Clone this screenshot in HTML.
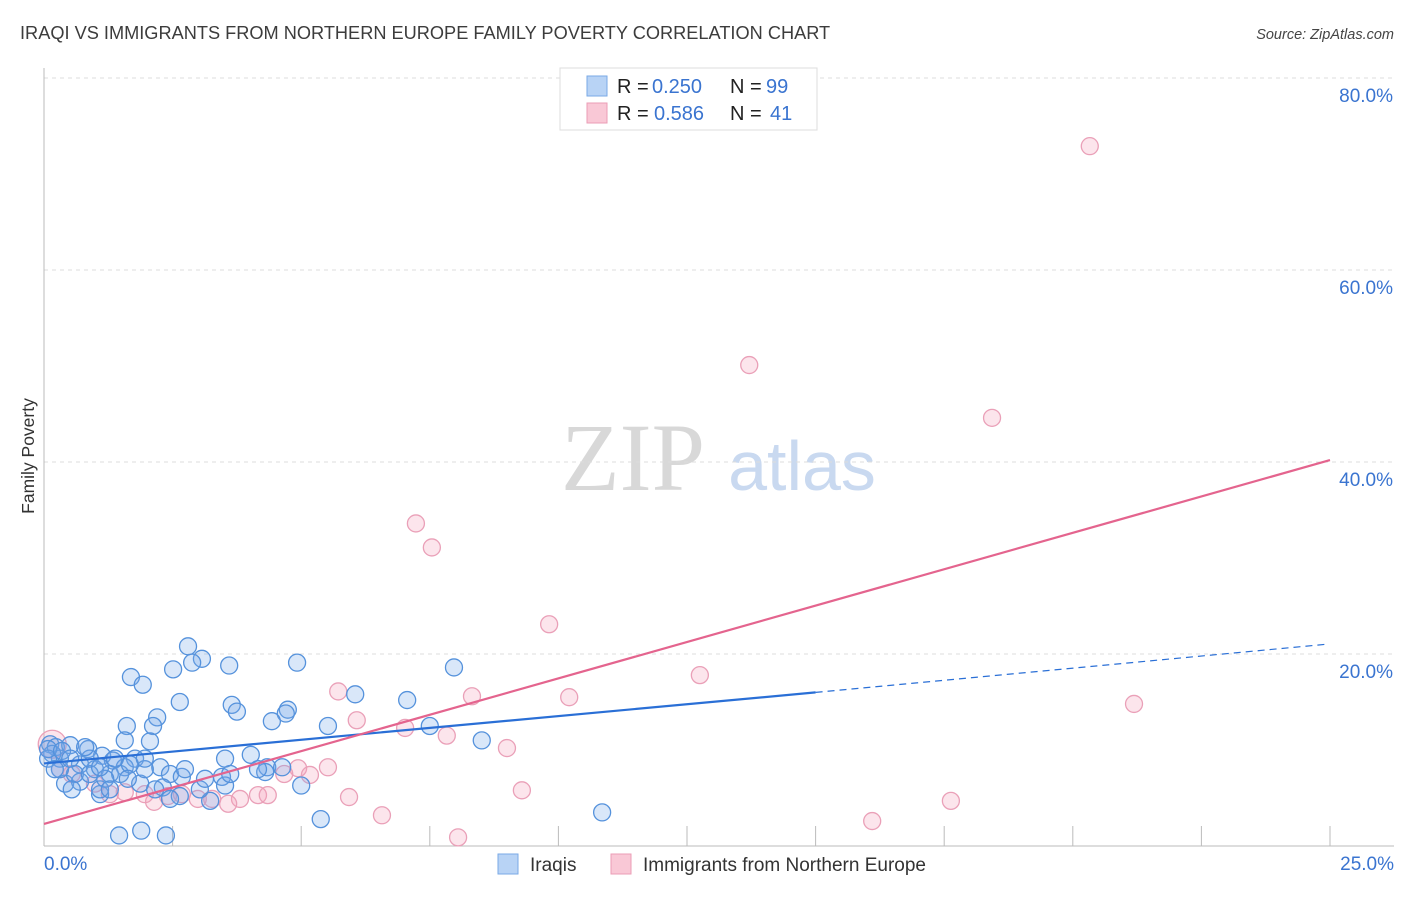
<!DOCTYPE html>
<html><head><meta charset="utf-8"><style>
body{margin:0;background:#fff;font-family:"Liberation Sans",sans-serif;}
svg text{font-family:"Liberation Sans",sans-serif;}
</style></head><body>
<svg id="chart" width="1406" height="892" xmlns="http://www.w3.org/2000/svg">
<text x="20" y="39" font-size="18.2" fill="#3c3c3c">IRAQI VS IMMIGRANTS FROM NORTHERN EUROPE FAMILY POVERTY CORRELATION CHART</text>
<text x="1394" y="39" font-size="14.5" fill="#444" font-style="italic" text-anchor="end">Source: ZipAtlas.com</text>
<text x="34" y="456" font-size="17.5" fill="#333" text-anchor="middle" transform="rotate(-90 34 456)">Family Poverty</text>
<text x="633" y="490" font-size="96" fill="#d8d8d8" text-anchor="middle" style="font-family:'Liberation Serif',serif">ZIP</text>
<text x="802" y="490" font-size="70" fill="#c9d9f0" text-anchor="middle">atlas</text>
<g id="grid"></g><g id="axes"></g><g id="pts"></g><g id="lines"></g>
<g>
<rect x="560" y="68" width="257" height="62" fill="#fff" stroke="#ddd"/>
<rect x="587" y="76" width="20" height="20" fill="#b8d3f5" stroke="#7aaae6"/>
<rect x="587" y="103" width="20" height="20" fill="#f9c8d6" stroke="#eb9db6"/>
<text x="617" y="93" font-size="20" fill="#222">R =</text>
<text x="652" y="93" font-size="20" fill="#3a74d0">0.250</text>
<text x="730" y="93" font-size="20" fill="#222">N =</text>
<text x="766" y="93" font-size="20" fill="#3a74d0">99</text>
<text x="617" y="120" font-size="20" fill="#222">R =</text>
<text x="654" y="120" font-size="20" fill="#3a74d0">0.586</text>
<text x="730" y="120" font-size="20" fill="#222">N =</text>
<text x="770" y="120" font-size="20" fill="#3a74d0">41</text>
</g>
<g>
<rect x="498" y="854" width="20" height="20" fill="#b8d3f5" stroke="#7aaae6"/>
<text x="530" y="871" font-size="19" fill="#333">Iraqis</text>
<rect x="611" y="854" width="20" height="20" fill="#f9c8d6" stroke="#eb9db6"/>
<text x="643" y="871" font-size="19" fill="#333">Immigrants from Northern Europe</text>
</g>
</svg>
<script>
const blueX=[2.80,3.07,2.88,3.60,4.92,7.97,1.69,1.92,2.51,2.64,3.65,3.75,4.74,4.70,6.05,7.06,2.20,1.61,2.12,4.43,5.52,7.50,2.06,1.57,8.51,4.02,3.52,0.12,0.23,0.51,0.86,1.13,1.34,1.77,1.57,0.31,0.70,0.99,1.28,2.26,2.45,2.68,3.46,4.34,4.30,4.63,0.41,0.70,1.09,1.87,2.31,2.64,3.23,3.52,5.00,2.45,1.09,1.46,1.89,2.37,5.38,10.85,0.16,0.08,0.60,0.89,1.48,1.96,2.74,3.62,3.03,0.31,1.38,1.67,0.89,0.54,1.19,1.63,2.16,3.13,4.16,0.08,0.35,0.80,1.96,1.09,0.51,0.21,1.28];
const blueY=[20.8,19.5,19.1,18.8,19.1,18.6,17.6,16.8,18.4,15.0,14.7,14.0,14.2,13.8,15.8,15.2,13.4,12.5,12.5,13.0,12.5,12.5,10.9,11.0,11.0,9.5,9.1,10.6,10.3,10.5,10.1,9.4,8.9,9.1,8.2,9.1,8.5,8.0,7.5,8.2,7.5,7.2,7.2,8.2,7.7,8.2,6.5,6.7,5.4,6.5,6.1,5.2,4.7,6.3,6.3,4.9,5.9,1.1,1.6,1.1,2.8,3.5,9.6,9.1,7.5,7.5,7.5,8.0,8.0,7.5,5.9,8.0,9.1,8.5,9.1,5.9,7.0,7.0,5.9,7.0,8.0,10.1,9.9,10.3,9.1,8.2,9.1,8.0,5.9];
const pinkX=[20.33,13.71,18.43,7.23,7.54,9.82,12.75,21.19,5.72,8.32,10.21,6.08,7.02,7.83,9.00,0.16,4.94,5.52,4.67,5.17,9.29,5.93,6.57,8.05,16.10,17.63,4.16,4.35,3.81,3.58,3.27,2.99,2.68,2.41,2.14,1.96,1.57,1.28,0.54,0.31,0.99];
const pinkY=[72.9,50.1,44.6,33.6,31.1,23.1,17.8,14.8,16.1,15.6,15.5,13.1,12.3,11.5,10.2,10.6,8.1,8.2,7.5,7.4,5.8,5.1,3.2,0.9,2.6,4.7,5.3,5.3,4.9,4.4,4.9,4.9,5.4,5.2,4.6,5.4,5.6,5.4,7.5,8.0,6.5];
const yTicks=[20,40,60,80];
const yTickLabels=["20.0%","40.0%","60.0%","80.0%"];
const xTickVals=[2.5,5,7.5,10,12.5,15,17.5,20,22.5,25];
const blueFit=[8.6,0.0, 15.0,16.0, 24.9,21.0];
const pinkFit=[2.3,25,40.2];
const NS="http://www.w3.org/2000/svg";
const X0=44,X1=1330,Y0=846,PXY=9.6;
const sx=v=>X0+v*(X1-X0)/25, sy=v=>Y0-v*PXY;
function mk(t,a,p){const e=document.createElementNS(NS,t);for(const k in a)e.setAttribute(k,a[k]);p.appendChild(e);return e;}
const grid=document.getElementById('grid'),axes=document.getElementById('axes'),pts=document.getElementById('pts'),lines=document.getElementById('lines');
yTicks.forEach((v,i)=>{
 const g=mk('line',{x1:X0,x2:1394,y1:sy(v),y2:sy(v),stroke:'#ddd','stroke-dasharray':'4,4'},grid);
 
 
 const t=mk('text',{x:1393,y:sy(v)+24,'font-size':19,fill:'#3a74d0','text-anchor':'end'},axes);
 t.textContent=yTickLabels[i];
 
 
});
const la=mk('line',{x1:X0,x2:X0,y1:68,y2:Y0,stroke:'#bbb'},axes);


const lb=mk('line',{x1:X0,x2:1394,y1:Y0,y2:Y0,stroke:'#bbb'},axes);


xTickVals.forEach(v=>{
 const t=mk('line',{x1:sx(v),x2:sx(v),y1:Y0-20,y2:Y0,stroke:'#bbb'},axes);
 
 
});
const xl=mk('text',{x:44,y:870,'font-size':19,fill:'#3a74d0'},axes);xl.textContent='0.0%';


const xr=mk('text',{x:1394,y:870,'font-size':19,fill:'#3a74d0','text-anchor':'end'},axes);xr.textContent='25.0%';


pinkX.forEach((x,i)=>{
 const big=i===15;
 const c=mk('circle',{cx:sx(x),cy:sy(pinkY[i]),r:big?14:8.5,fill:'rgba(244,160,188,0.28)',stroke:'#eaa0b8','stroke-width':1.3},pts);
 
 
});
blueX.forEach((x,i)=>{
 const c=mk('circle',{cx:sx(x),cy:sy(blueY[i]),r:8.5,fill:'rgba(120,170,235,0.28)',stroke:'#5592dc','stroke-width':1.3},pts);
 
 
});
const b1=mk('line',{x1:sx(0),y1:sy(blueFit[0]),x2:sx(blueFit[2]),y2:sy(blueFit[3]),stroke:'#2a6fd6','stroke-width':2.2},lines);


const b2=mk('line',{x1:sx(blueFit[2]),y1:sy(blueFit[3]),x2:sx(blueFit[4]),y2:sy(blueFit[5]),stroke:'#2a6fd6','stroke-width':1.2,'stroke-dasharray':'7,5'},lines);


const p1=mk('line',{x1:sx(0),y1:sy(pinkFit[0]),x2:sx(pinkFit[1]),y2:sy(pinkFit[2]),stroke:'#e4648e','stroke-width':2.2},lines);


</script>
</body></html>
